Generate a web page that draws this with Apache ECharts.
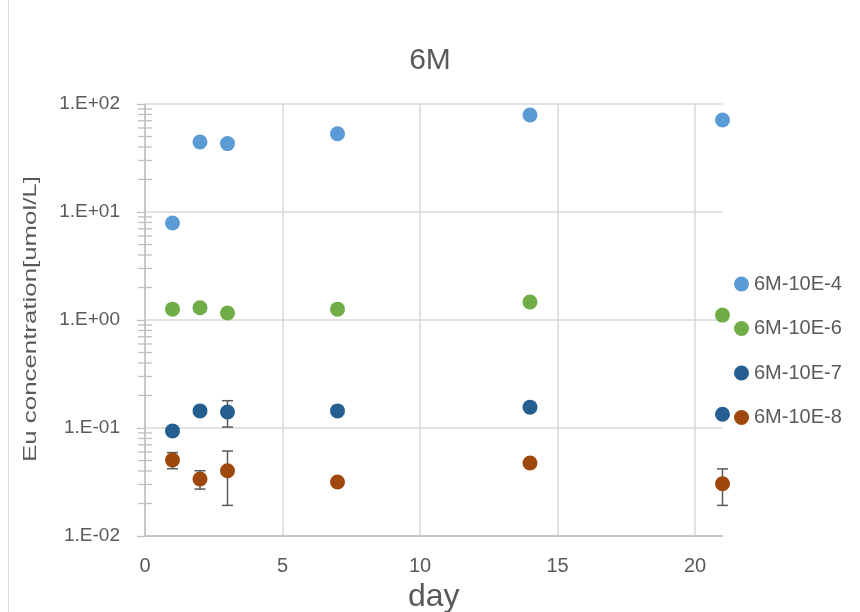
<!DOCTYPE html>
<html>
<head>
<meta charset="utf-8">
<script src="https://cdn.jsdelivr.net/npm/echarts@6/dist/echarts.min.js"></script>
<style>html,body{margin:0;padding:0;background:#fff;}#c{width:860px;height:612px;}</style>
</head>
<body>
<div id="c"></div>
<script>
// ---- data ----
const titleText = '6M';
const xName = 'day';
const yName = 'Eu concentration[umol/L]';
const seriesNames = ['6M-10E-4', '6M-10E-6', '6M-10E-7', '6M-10E-8'];
const days = [1, 2, 3, 7, 14, 21];
const s4 = [7.9, 44.5, 43, 53, 79, 71];
const s6 = [1.26, 1.30, 1.16, 1.26, 1.47, 1.11];
const s7 = [0.094, 0.144, 0.1405, 0.144, 0.156, 0.134];
const s8 = [0.0506, 0.0337, 0.0402, 0.0316, 0.0474, 0.0305];
// symmetric error values (0 = no bar)
const e4 = [0, 0, 0, 0, 4, 0];
const e6 = [0, 0, 0.08, 0, 0, 0];
const e7 = [0, 0, 0.0385, 0, 0, 0.01];
const e8 = [0.0086, 0.0065, 0.021, 0, 0, 0.0113];
const minorTickValues = [];
[0.01, 0.1, 1, 10].forEach(b => { for (let m = 2; m <= 9; m++) minorTickValues.push(+(b * m).toPrecision(3)); });

const colors = ['#5B9BD5', '#70AD47', '#255E91', '#9E480E'];
const values = [s4, s6, s7, s8];
const errors = [e4, e6, e7, e8];
const txt = '#595959';
const font = 'Liberation Sans, Arial, sans-serif';

function fmtY(v) {
  const e = Math.round(Math.log10(v));
  return '1.E' + (e < 0 ? '-' : '+') + String(Math.abs(e)).padStart(2, '0');
}

function renderErr(params, api) {
  const x = api.value(0), lo = api.value(1), hi = api.value(2);
  if (hi - lo <= 0) return null;
  const a = api.coord([x, lo]), b = api.coord([x, hi]);
  const w = 5.5;
  const st = { stroke: '#595959', lineWidth: 1.5 };
  return {
    type: 'group',
    children: [
      { type: 'line', shape: { x1: a[0], y1: a[1], x2: b[0], y2: b[1] }, style: st },
      { type: 'line', shape: { x1: a[0] - w, y1: a[1], x2: a[0] + w, y2: a[1] }, style: st },
      { type: 'line', shape: { x1: b[0] - w, y1: b[1], x2: b[0] + w, y2: b[1] }, style: st }
    ]
  };
}

function renderMinor(params, api) {
  const p = api.coord([api.value(0), api.value(1)]);
  return { type: 'line', shape: { x1: p[0] - 7, y1: p[1], x2: p[0] + 7, y2: p[1] }, style: { stroke: '#BFBFBF', lineWidth: 1.3 } };
}

const series = [];
values.forEach((vals, i) => {
  series.push({
    type: 'custom',
    name: seriesNames[i] + ' err',
    renderItem: renderErr,
    data: days.map((d, j) => [d, vals[j] - errors[i][j], vals[j] + errors[i][j]]),
    encode: { x: 0, y: [1, 2] },
    clip: false,
    silent: true,
    z: 3
  });
});
values.forEach((vals, i) => {
  series.push({
    type: 'scatter',
    name: seriesNames[i],
    data: days.map((d, j) => [d, vals[j]]),
    symbol: 'circle',
    symbolSize: 15,
    itemStyle: { color: colors[i], opacity: 1 },
    clip: false,
    z: 5
  });
});
series.push({
  type: 'custom',
  name: 'minor',
  renderItem: renderMinor,
  data: minorTickValues.map(v => [0, v]),
  encode: { x: 0, y: 1 },
  clip: false,
  silent: true,
  z: 2
});

const chart = echarts.init(document.getElementById('c'), null, { renderer: 'canvas' });
chart.setOption({
  animation: false,
  backgroundColor: '#fff',
  color: colors,
  title: {
    text: titleText,
    left: 'center',
    top: 41,
    textStyle: { color: txt, fontSize: 30, fontWeight: 'normal', fontFamily: font }
  },
  legend: {
    data: seriesNames,
    orient: 'vertical',
    left: 729,
    top: 269,
    itemWidth: 15,
    itemHeight: 15,
    itemGap: 24.5,
    icon: 'circle',
    textStyle: { color: txt, fontSize: 20, fontFamily: font }
  },
  grid: { left: 145, right: 137.5, top: 104, bottom: 76, containLabel: false, outerBoundsMode: 'none' },
  xAxis: {
    type: 'value',
    min: 0,
    max: 21,
    interval: 5,
    name: xName,
    nameLocation: 'middle',
    nameGap: 37,
    nameTextStyle: { color: txt, fontSize: 32, fontFamily: font },
    axisLine: { show: true, lineStyle: { color: '#BFBFBF', width: 1.5 } },
    axisTick: { show: false },
    axisLabel: { color: txt, fontSize: 20, fontFamily: font, margin: 20, showMaxLabel: false },
    splitLine: { show: true, showMaxLine: false, lineStyle: { color: '#D9D9D9', width: 1.5 } }
  },
  yAxis: {
    type: 'log',
    logBase: 10,
    min: 0.01,
    max: 100,
    axisLine: { show: true, lineStyle: { color: '#BFBFBF', width: 1.5 } },
    axisTick: { show: true, length: 8, lineStyle: { color: '#BFBFBF', width: 1.3 } },
    axisLabel: { color: txt, fontSize: 19, fontFamily: font, margin: 25, formatter: fmtY },
    splitLine: { show: true, lineStyle: { color: '#D9D9D9', width: 1.5 } }
  },
  graphic: [
    { type: 'line', shape: { x1: 8.5, y1: 0, x2: 8.5, y2: 612 }, style: { stroke: '#D9D9D9', lineWidth: 1 }, silent: true },
    {
      type: 'text',
      x: 31,
      y: 319,
      rotation: Math.PI / 2,
      scaleX: 1.36,
      style: { text: yName, fill: txt, fontSize: 19, fontFamily: font, align: 'center', verticalAlign: 'middle' },
      silent: true
    }
  ],
  series: series
});
</script>
</body>
</html>
